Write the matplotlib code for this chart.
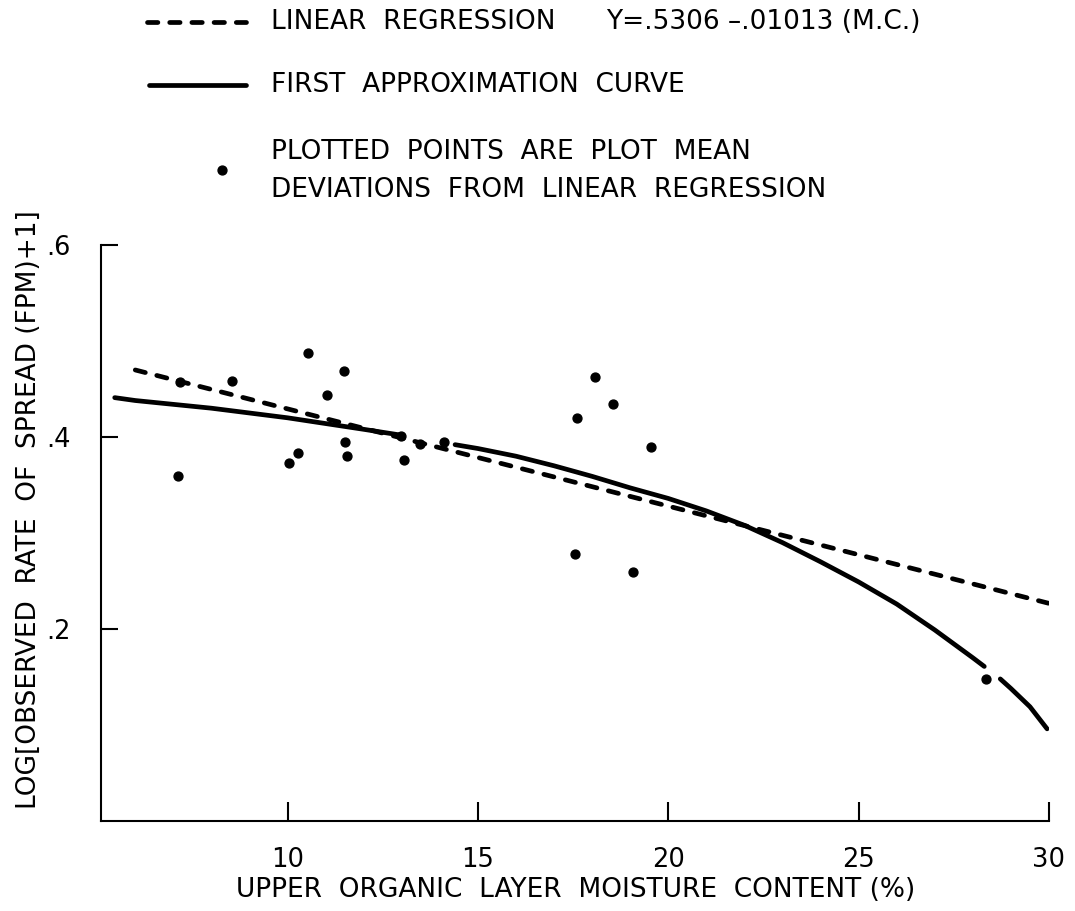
import numpy as np
import matplotlib
matplotlib.use("Agg")
import matplotlib.pyplot as plt
from matplotlib.lines import Line2D

# plot mean deviations from the linear regression
pts_x = [7.12, 7.17, 8.55, 10.05, 10.28, 10.54, 11.03, 11.49, 11.51, 11.57,
         12.97, 13.06, 13.47, 14.10, 17.56, 17.59, 18.07, 18.54, 19.08, 19.54,
         28.35]
pts_y = [0.359, 0.457, 0.458, 0.373, 0.383, 0.487, 0.444, 0.469, 0.395, 0.380,
         0.401, 0.376, 0.393, 0.395, 0.278, 0.420, 0.462, 0.434, 0.259, 0.390,
         0.148]

# first approximation curve (nan = break in the drawn line)
curve_x = [5.46, 6, 7, 8, 9, 10, 11, 12, 12.97, np.nan,
           14.4, 15, 16, 17, 18, 19, 20, 21, 22, 23, 24, 25, 26, 27, 28, 28.3, np.nan,
           28.72, 29, 29.5, 29.95]
curve_y = [0.441, 0.438, 0.434, 0.430, 0.425, 0.420, 0.414, 0.408, 0.402, np.nan,
           0.392, 0.388, 0.380, 0.370, 0.359, 0.347, 0.336, 0.323, 0.308, 0.290,
           0.270, 0.249, 0.226, 0.199, 0.170, 0.161, np.nan,
           0.148, 0.138, 0.119, 0.096]

# linear regression Y = a - b * MC
reg_a = 0.5306
reg_b = 0.01013
reg_x = [6, 30]

xticks = [10, 15, 20, 25, 30]
yticks = [0.2, 0.4, 0.6]
ytick_labels = [".2", ".4", ".6"]

W, H = 1075, 911
fig = plt.figure(figsize=(W / 100, H / 100), dpi=100)
plt.rcParams['font.family'] = 'DejaVu Sans'
FS = 19

def fx(px):
    return px / W

def fy(py):
    return 1 - py / H

ax = fig.add_axes([fx(101), fy(821), fx(1049) - fx(101), fy(245) - fy(821)])

LW = 3.4
dash = (0, (2.2, 2.5))

reg_y = [reg_a - reg_b * x for x in reg_x]
ax.plot(reg_x, reg_y, color='black', lw=LW, linestyle=dash, dash_capstyle='round')
ax.plot(curve_x, curve_y, color='black', lw=LW, solid_capstyle='round')
ax.plot(pts_x, pts_y, 'o', color='black', markersize=6.4, zorder=5)

ax.set_xlim(5.1, 30)
ax.set_ylim(0, 0.6)
ax.set_xticks(xticks)
ax.set_xticklabels([str(t) for t in xticks])
ax.set_yticks(yticks)
ax.set_yticklabels(ytick_labels)

for s in ['top', 'right']:
    ax.spines[s].set_visible(False)
for s in ['left', 'bottom']:
    ax.spines[s].set_linewidth(1.5)

ax.tick_params(axis='x', direction='in', length=14, width=1.5, pad=19, labelsize=18.5)
ax.tick_params(axis='y', direction='in', length=12, width=1.5, pad=22, labelsize=18.5)

fig.text(fx(576), fy(890), "UPPER  ORGANIC  LAYER  MOISTURE  CONTENT (%)",
         ha='center', va='center', fontsize=FS)
fig.text(fx(29), fy(510), "LOG[OBSERVED  RATE  OF  SPREAD (FPM)+1]",
         ha='center', va='center', rotation=90, fontsize=FS)

# legend drawn in figure coordinates
fig.add_artist(Line2D([fx(147), fx(246)], [fy(22), fy(22)], color='black', lw=LW,
                      linestyle=dash, dash_capstyle='round', transform=fig.transFigure))
fig.text(fx(271), fy(22), "LINEAR  REGRESSION",
         ha='left', va='center', fontsize=FS)
fig.text(fx(606), fy(22), "Y=.5306 \u2013.01013 (M.C.)",
         ha='left', va='center', fontsize=FS)

fig.add_artist(Line2D([fx(149), fx(246)], [fy(85), fy(85)], color='black', lw=LW,
                      solid_capstyle='round', transform=fig.transFigure))
fig.text(fx(271), fy(85), "FIRST  APPROXIMATION  CURVE",
         ha='left', va='center', fontsize=FS)

fig.add_artist(Line2D([fx(222)], [fy(170)], marker='o', color='black', markersize=6.4,
                      linestyle='none', transform=fig.transFigure))
fig.text(fx(271), fy(152), "PLOTTED  POINTS  ARE  PLOT  MEAN",
         ha='left', va='center', fontsize=FS)
fig.text(fx(271), fy(190), "DEVIATIONS  FROM  LINEAR  REGRESSION",
         ha='left', va='center', fontsize=FS)

fig.savefig("out.png", dpi=100)
